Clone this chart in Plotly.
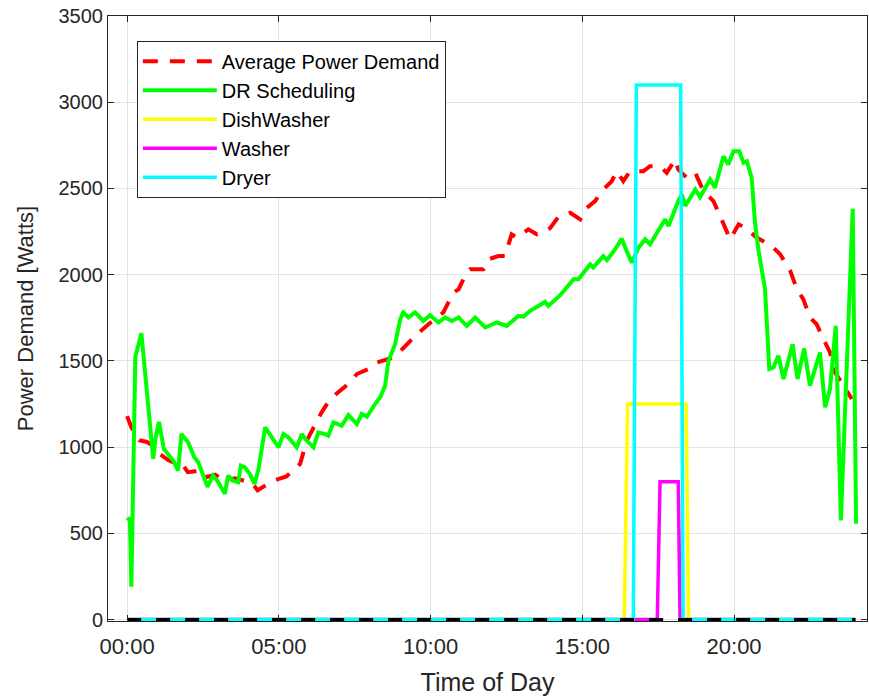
import plotly.graph_objects as go

# Time of day in hours
avg_hours = [0.0, 0.14, 0.4, 0.65, 0.85, 1.08, 1.35, 1.6, 1.85, 2.0, 2.25, 2.5, 2.62, 2.9,
             3.22, 3.55, 3.85, 4.1, 4.3, 4.55, 4.82, 5.0, 5.25, 5.45, 5.7, 5.92, 6.19, 6.41,
             6.69, 6.96, 7.35, 7.57, 7.95, 8.17, 8.67, 8.94, 9.22, 9.55, 9.93, 10.31, 10.42,
             10.75, 10.92, 11.19, 11.3, 11.74, 11.9, 12.23, 12.45, 12.67, 12.84, 13.22, 13.5,
             13.72, 13.94, 14.21, 14.6, 14.93, 15.09, 15.42, 15.64, 15.97, 16.13, 16.35, 16.57,
             17.01, 17.23, 17.56, 17.78, 18.06, 18.16, 18.44, 18.72, 18.99, 19.32, 19.54, 19.76,
             19.87, 20.15, 20.36, 20.75, 21.24, 21.52, 21.74, 21.85, 22.07, 22.28, 22.5, 22.72,
             23.0, 23.16, 23.33, 23.66, 23.88]
avg_watts = [1180, 1115, 1040, 1030, 1010, 960, 925, 905, 893, 855, 860, 864, 826, 840,
             806, 820, 805, 795, 750, 775, 806, 816, 830, 864, 903, 1038, 1124, 1202,
             1279, 1318, 1376, 1424, 1453, 1487, 1515, 1545, 1597, 1655, 1713, 1771, 1781,
             1896, 1915, 2012, 2031, 2031, 2089, 2108, 2108, 2234, 2215, 2263, 2234,
             2244, 2270, 2335, 2359, 2321, 2378, 2427, 2485, 2542, 2600, 2542, 2600,
             2600, 2629, 2629, 2591, 2668, 2610, 2562, 2591, 2485, 2427, 2340, 2244,
             2205, 2292, 2273, 2215, 2166, 2118, 2050, 2022, 1916, 1858, 1752, 1713,
             1607, 1549, 1433, 1337, 1279]

dr_hours = [0.0, 0.09, 0.14, 0.27, 0.47, 0.86, 0.93, 1.05, 1.21, 1.35, 1.52, 1.68, 1.79,
            2.01, 2.21, 2.34, 2.65, 2.83, 3.0, 3.22, 3.33, 3.49, 3.66, 3.75, 3.88, 4.04,
            4.2, 4.33, 4.55, 4.99, 5.15, 5.31, 5.59, 5.76, 5.87, 6.14, 6.3, 6.52, 6.63,
            6.8, 7.07, 7.29, 7.57, 7.73, 7.9, 8.17, 8.34, 8.5, 8.61, 8.83, 9.0, 9.1,
            9.27, 9.49, 9.76, 9.98, 10.26, 10.48, 10.7, 10.92, 11.19, 11.47, 11.8, 12.18,
            12.51, 12.89, 13.06, 13.28, 13.77, 13.88, 14.27, 14.71, 14.87, 15.26, 15.36,
            15.69, 15.81, 16.08, 16.3, 16.46, 16.63, 16.85, 17.07, 17.23, 17.73, 17.84,
            18.16, 18.28, 18.39, 18.72, 18.88, 19.21, 19.37, 19.65, 19.81, 19.98, 20.17,
            20.31, 20.42, 20.58, 20.69, 20.8, 21.02, 21.16, 21.3, 21.46, 21.63, 21.93,
            22.09, 22.31, 22.5, 22.83, 23.0, 23.16, 23.35, 23.52, 23.91, 24.02]
dr_watts = [575, 590, 191, 1522, 1661, 932, 1047, 1146, 990, 960, 922, 864, 1076,
            1028, 943, 914, 770, 835, 798, 729, 835, 806, 797, 893, 883, 845,
            787, 874, 1115, 999, 1076, 1057, 999, 1076, 1047, 999, 1086, 1076, 1066,
            1144, 1124, 1186, 1134, 1192, 1177, 1250, 1289, 1356, 1500, 1597, 1742, 1781,
            1752, 1781, 1732, 1765, 1723, 1752, 1732, 1752, 1703, 1752, 1694, 1723,
            1703, 1761, 1757, 1790, 1842, 1819, 1881, 1973, 1973, 2060, 2041,
            2108, 2085, 2147, 2209, 2137, 2070, 2157, 2205, 2176, 2321, 2282,
            2427, 2465, 2398, 2494, 2450, 2552, 2504, 2687, 2639, 2716, 2716,
            2649, 2658, 2562, 2301, 2147, 1916, 1453, 1462, 1530, 1395, 1597,
            1395, 1572, 1356, 1549, 1231, 1337, 1703, 575, 2382, 556]

dishwasher_hours = [0.0, 16.38, 16.49, 18.42, 18.5, 24.0]
dishwasher_watts = [0, 0, 1250, 1250, 0, 0]

washer_hours = [0.0, 17.47, 17.56, 18.16, 18.22, 24.0]
washer_watts = [0, 0, 800, 800, 0, 0]

dryer_hours = [0.0, 16.68, 16.78, 18.24, 18.32, 24.0]
dryer_watts = [0, 0, 3100, 3100, 0, 0]

other_hours = [0.0, 24.0]
other_watts = [0, 0]

x_tick_hours = [0, 5, 10, 15, 20]
x_tick_labels = ["00:00", "05:00", "10:00", "15:00", "20:00"]
y_tick_values = [0, 500, 1000, 1500, 2000, 2500, 3000, 3500]

FONT = "Liberation Sans, Arial, Helvetica, sans-serif"
AX = "#262626"
GRID = "#e3e3e3"

fig = go.Figure()
fig.add_trace(go.Scatter(x=avg_hours, y=avg_watts, mode="lines", name="Average Power Demand",
                         line=dict(color="#ff0000", width=4, dash="15px,12px")))
fig.add_trace(go.Scatter(x=dr_hours, y=dr_watts, mode="lines", name="DR Scheduling",
                         line=dict(color="#00ff00", width=4)))
fig.add_trace(go.Scatter(x=dishwasher_hours, y=dishwasher_watts, mode="lines", name="DishWasher",
                         line=dict(color="#ffff00", width=3.5)))
fig.add_trace(go.Scatter(x=washer_hours, y=washer_watts, mode="lines", name="Washer",
                         line=dict(color="#ff00ff", width=3.5)))
fig.add_trace(go.Scatter(x=dryer_hours, y=dryer_watts, mode="lines", name="Dryer",
                         line=dict(color="#00ffff", width=3.5)))
fig.add_trace(go.Scatter(x=other_hours, y=other_watts, mode="lines", showlegend=False,
                         line=dict(color="#000000", width=3, dash="14px,15px")))

fig.update_layout(
    width=869, height=700,
    margin=dict(l=108, r=2, t=16, b=79),
    paper_bgcolor="white", plot_bgcolor="white",
    font=dict(family=FONT, size=20, color=AX),
    showlegend=True,
    legend=dict(x=0.038, y=0.959, xanchor="left", yanchor="top",
                bgcolor="white", bordercolor=AX, borderwidth=1,
                font=dict(family=FONT, size=20, color="#000000"),
                itemwidth=74, tracegroupgap=0),
)
fig.update_xaxes(
    range=[-0.63, 24.38], tickmode="array", tickvals=x_tick_hours, ticktext=x_tick_labels,
    showgrid=True, gridcolor=GRID, gridwidth=1, zeroline=False,
    showline=True, linecolor=AX, linewidth=1, mirror="ticks",
    ticks="inside", ticklen=6, tickcolor=AX, ticklabelstandoff=6,
    tickfont=dict(family=FONT, size=22, color=AX),
    title=dict(text="Time of Day", font=dict(family=FONT, size=25, color=AX), standoff=15),
)
fig.update_yaxes(
    range=[-8, 3500], tickmode="array", tickvals=y_tick_values,
    showgrid=True, gridcolor=GRID, gridwidth=1, zeroline=False,
    showline=True, linecolor=AX, linewidth=1, mirror="ticks",
    ticks="inside", ticklen=6, tickcolor=AX,
    tickfont=dict(family=FONT, size=20, color=AX),
    title=dict(text="Power Demand [Watts]", font=dict(family=FONT, size=22, color=AX), standoff=18),
)

fig.write_html("out.html")
